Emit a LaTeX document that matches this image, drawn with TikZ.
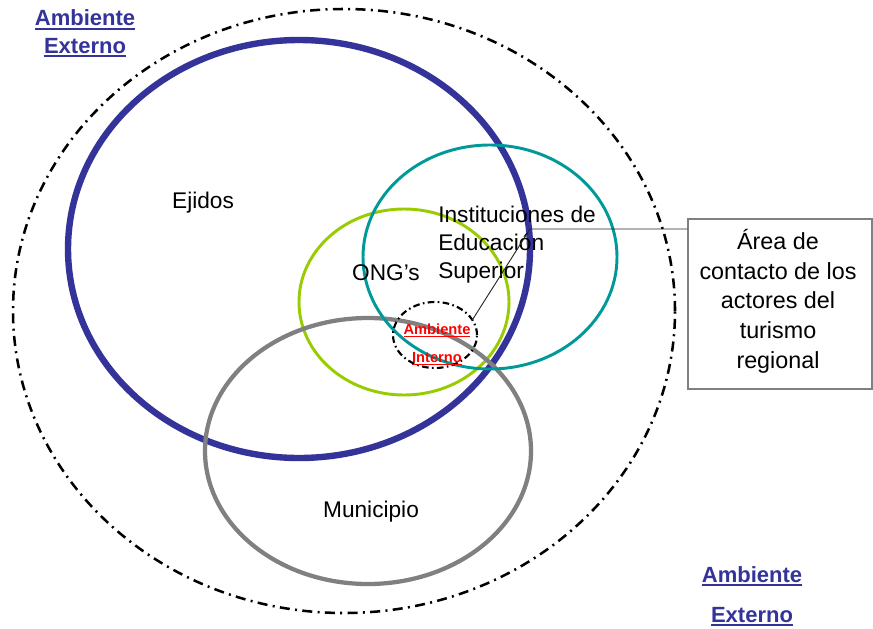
\documentclass[tikz,border=0pt]{standalone}
\usepackage{fontspec}
\setmainfont{Liberation Sans}
\usetikzlibrary{shapes.geometric}
\definecolor{navyring}{RGB}{51,51,153}
\definecolor{tealring}{RGB}{0,153,153}
\definecolor{limering}{RGB}{153,204,0}
\definecolor{grayring}{RGB}{128,128,128}
\definecolor{redlabel}{RGB}{255,0,0}
% underline with a chosen thickness (#1) and depth below the baseline (#2)
\newcommand{\thickul}[3]{\setbox0\hbox{#3}\rlap{\rule[-#2]{\wd0}{#1}}\box0}
\begin{document}
\begin{tikzpicture}[x=0.75pt,y=-0.75pt,
  ring/.style={ellipse,draw,inner sep=0pt,outer sep=0pt},
  label/.style={font=\fontsize{17}{21}\selectfont,inner sep=0pt,anchor=base},
  boxlabel/.style={font=\fontsize{17.5}{21}\selectfont,inner sep=0pt,anchor=base},
  envlabel/.style={font=\fontsize{16.5}{20}\selectfont\bfseries,text=navyring,inner sep=0pt,anchor=base},
  innerlabel/.style={font=\fontsize{11}{13}\selectfont\bfseries,text=redlabel,inner sep=0pt,anchor=base}]
\useasboundingbox (0,0) rectangle (873,628);

% outer environment boundary
\node[ring,line width=1.9pt,dash pattern=on 7.5pt off 4pt on 1.5pt off 4pt,
  minimum width=496.5pt,minimum height=453pt] (outer) at (344,311) {};

% the four actors
\node[ring,draw=navyring,line width=4.8pt,minimum width=346.5pt,minimum height=313.5pt] (ejidos) at (299,249) {};
\node[ring,draw=limering,line width=2.2pt,minimum width=157.5pt,minimum height=139.5pt] (ong) at (404,302) {};
\node[ring,draw=grayring,line width=3.2pt,minimum width=244.5pt,minimum height=199.5pt] (muni) at (368,451) {};
\node[ring,draw=tealring,line width=2.2pt,minimum width=190.5pt,minimum height=168pt] (inst) at (490,257) {};

% inner environment (contact area)
\node[ring,line width=1.6pt,dash pattern=on 5pt off 2.5pt on 1.2pt off 2.5pt,
  minimum width=63pt,minimum height=49.5pt] (inner) at (435,335) {};

% actor names
\node[label] (tejidos) at (203,208) {Ejidos};
\node[label] (tong) at (386,280) {ONG’s};
\node[label,anchor=base west] (tinst1) at (438,222) {Instituciones de};
\node[label,anchor=base west] (tinst2) at (438,250) {Educación};
\node[label,anchor=base west] (tinst3) at (438,278) {Superior};
\node[label] (tmuni) at (371,517) {Municipio};

% inner environment labels
\node[innerlabel] (tamb) at (437,334) {\thickul{1pt}{2.2pt}{Ambiente}};
\node[innerlabel] (tint) at (437,362) {\thickul{1pt}{2.2pt}{Interno}};

% outer environment labels
\node[envlabel] (ext1a) at (85,26) {\thickul{1.6pt}{3.2pt}{Ambiente}};
\node[envlabel] (ext1b) at (85,53) {\thickul{1.6pt}{3.2pt}{Externo}};
\node[envlabel] (ext2a) at (752,582) {\thickul{1.6pt}{3.2pt}{Ambiente}};
\node[envlabel] (ext2b) at (752,622) {\thickul{1.6pt}{3.2pt}{Externo}};

% callout box
\node[draw=grayring,line width=0.8pt,minimum width=138pt,minimum height=127.5pt,inner sep=0pt] (box) at (780,304) {};
\node[boxlabel] (b1) at (778,249) {Área de};
\node[boxlabel] (b2) at (778,279) {contacto de los};
\node[boxlabel] (b3) at (778,308) {actores del};
\node[boxlabel] (b4) at (778,338) {turismo};
\node[boxlabel] (b5) at (778,368) {regional};

% leader from the box to the contact area
\coordinate (bend) at (530,229);
\draw[line width=0.7pt,draw=black!85] (box.west |- bend) -- (bend) -- (inner.22);
\end{tikzpicture}
\end{document}
